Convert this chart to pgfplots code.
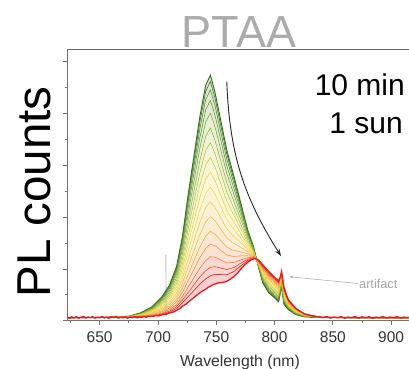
\documentclass[border=0pt]{standalone}
\usepackage{fontspec}
\setmainfont{Liberation Sans}
\usepackage{pgfplots}
\pgfplotsset{compat=1.18}
\usepackage{pgfplotstable}
\usepgfplotslibrary{fillbetween}
\usetikzlibrary{arrows.meta}

\definecolor{g0}{RGB}{52,110,30}
\definecolor{g1}{RGB}{115,160,45}
\definecolor{y1}{RGB}{185,200,55}
\definecolor{y2}{RGB}{240,215,65}
\definecolor{o1}{RGB}{245,165,45}
\definecolor{o2}{RGB}{240,95,35}
\definecolor{r0}{RGB}{232,25,35}
\colorlet{col0}{g0}
\colorlet{col1}{g0!85!g1}
\colorlet{col2}{g0!60!g1}
\colorlet{col3}{g0!30!g1}
\colorlet{col4}{g1}
\colorlet{col5}{g1!60!y1}
\colorlet{col6}{g1!20!y1}
\colorlet{col7}{y1!70!y2}
\colorlet{col8}{y1!30!y2}
\colorlet{col9}{y2}
\colorlet{col10}{y2!65!o1}
\colorlet{col11}{y2!30!o1}
\colorlet{col12}{o1}
\colorlet{col13}{o1!60!o2}
\colorlet{col14}{o1!20!o2}
\colorlet{col15}{o2!60!r0}
\colorlet{col16}{o2!30!r0}
\colorlet{col17}{r0}

\pgfplotstableread{
x c0 c1 c2 c3 c4 c5 c6 c7 c8 c9 c10 c11 c12 c13 c14 c15 c16
622 110 112 108 115 111 113 109 116 112 110 114 117 111 115 118 113 116
650 120 118 123 121 125 119 124 122 127 121 126 123 128 125 129 126 131
675 170 169 167 165 163 160 157 154 152 149 146 143 140 138 136 134 132
685 300 295 288 280 270 259 247 236 224 213 201 189 178 168 158 150 143
695 540 528 513 493 470 442 415 388 361 333 306 279 251 228 205 185 169
703 900 879 850 815 772 722 673 623 573 524 474 424 375 332 289 254 225
710 1380 1347 1302 1247 1180 1102 1025 947 869 792 714 636 559 492 425 370 325
716 2100 2049 1980 1895 1792 1672 1553 1433 1313 1194 1074 954 835 732 629 544 475
721 3250 3169 3062 2927 2766 2577 2389 2201 2013 1824 1636 1448 1259 1098 937 802 694
726 4900 4775 4607 4398 4148 3855 3562 3270 2977 2685 2392 2099 1807 1556 1305 1096 929
731 6400 6235 6015 5740 5410 5025 4640 4255 3870 3485 3100 2715 2330 2000 1670 1395 1175
736 7900 7695 7423 7082 6672 6195 5718 5240 4763 4285 3808 3331 2853 2444 2035 1694 1421
741 9100 8864 8548 8154 7682 7130 6578 6027 5475 4924 4372 3820 3269 2796 2323 1929 1614
745 9480 9235 8909 8502 8013 7442 6872 6301 5731 5160 4590 4019 3449 2960 2471 2063 1737
749 8800 8579 8283 7914 7472 6955 6438 5922 5405 4889 4372 3855 3339 2896 2453 2084 1789
754 7700 7513 7264 6952 6579 6142 5706 5270 4834 4398 3962 3526 3090 2716 2342 2031 1781
759 6600 6448 6244 5990 5686 5330 4974 4619 4263 3908 3552 3196 2841 2536 2231 1977 1774
765 5600 5483 5327 5132 4898 4625 4352 4079 3806 3533 3260 2987 2714 2480 2246 2051 1895
771 4550 4473 4371 4243 4089 3910 3731 3552 3372 3193 3014 2835 2656 2502 2348 2220 2118
777 3500 3463 3413 3351 3277 3190 3103 3016 2930 2843 2756 2669 2582 2508 2434 2372 2322
782 2850 2836 2818 2795 2767 2735 2703 2671 2638 2606 2574 2542 2510 2482 2454 2431 2413
786 2100 2107 2117 2129 2143 2160 2177 2194 2210 2227 2244 2261 2278 2292 2306 2318 2328
790 1450 1471 1499 1534 1576 1625 1674 1723 1772 1821 1870 1919 1968 2010 2052 2087 2115
795 1080 1105 1137 1178 1228 1285 1342 1400 1457 1515 1572 1629 1687 1736 1785 1826 1859
800 880 904 936 976 1024 1080 1136 1192 1248 1304 1360 1416 1472 1520 1568 1608 1640
803.5 730 754 786 826 874 930 986 1042 1098 1154 1210 1266 1322 1370 1418 1458 1490
806 1340 1357 1379 1407 1441 1480 1519 1558 1598 1637 1676 1715 1754 1788 1822 1850 1872
808 640 660 686 719 759 805 851 897 944 990 1036 1082 1128 1168 1208 1241 1267
812 420 431 447 466 488 515 542 568 595 621 648 675 701 724 747 766 781
818 240 248 258 270 285 303 320 338 355 373 390 408 425 440 455 468 478
826 150 153 158 163 170 178 185 193 201 208 216 224 231 238 245 250 255
840 120 122 119 124 121 126 123 127 125 129 126 131 128 133 130 135 137
870 110 113 109 114 112 116 111 117 115 119 114 120 118 122 119 123 121
915 100 104 99 105 102 107 101 108 103 109 104 110 106 111 107 112 110
}\spec

\pgfplotstableread{
x y
622 140
624 95
626 150
628 110
630 160
632 90
634 135
636 170
638 100
640 145
642 120
644 160
646 95
648 140
650 115
652 165
654 105
656 140
658 90
660 150
662 120
664 170
666 100
668 135
670 110
672 155
674 95
676 145
678 120
680 160
682 110
684 150
686 125
688 165
690 130
692 175
695 160
698 200
701 185
704 240
707 250
710 300
713 330
716 400
719 470
721 560
724 640
726 720
729 830
731 900
734 1010
736 1080
738 1140
741 1220
743 1290
745 1330
747 1390
749 1420
751 1450
754 1470
756 1480
759 1520
762 1600
765 1700
768 1830
771 1990
774 2140
777 2260
780 2350
782 2390
784 2395
786 2340
788 2260
790 2150
793 2000
795 1900
798 1760
800 1680
802 1600
803.5 1530
805 1700
806 1900
807 1600
808 1300
810 1000
812 800
815 640
818 490
822 360
826 260
830 200
834 170
838 150
842 130
845 160
848 100
851 145
854 115
857 160
860 95
863 140
866 120
869 165
872 100
875 150
878 115
881 155
884 95
887 140
890 120
893 160
896 105
899 145
902 115
905 160
908 100
911 140
914 120
915 130
}\redtab

\begin{document}
\begin{tikzpicture}
\begin{axis}[
  set layers,
  scale only axis, width=342pt, height=271.7pt,
  xmin=622, xmax=915.3, ymin=0, ymax=10490,
  axis x line*=bottom, axis y line*=left,
  axis line style={draw=black!55, line width=0.8pt},
  tick align=outside,
  xtick={650,700,...,900}, minor xtick={625,675,...,875},
  ytick={0,2000,...,10000}, minor ytick={1000,3000,...,9000},
  yticklabels={},
  major tick length=4.5pt, minor tick length=2.5pt,
  every tick/.style={black!55, line width=0.8pt},
  xticklabel style={font=\fontsize{15.5}{18}\selectfont, text=black!80, yshift=-2.5pt},
  /pgf/number format/assume math mode=true,
  scaled y ticks=false,
]
\addplot[black!25, line width=0.4pt] coordinates {(706.3,200) (706.6,2530) (707.0,2540) (707.3,200)};

\addplot[col0, line width=0.9pt, name path=p0] table[x=x,y=c0]{\spec};
\addplot[col1, line width=0.6pt, name path=p1] table[x=x,y=c1]{\spec};
\addplot[col2, line width=0.5pt, name path=p2] table[x=x,y=c2]{\spec};
\addplot[col3, line width=0.5pt, name path=p3] table[x=x,y=c3]{\spec};
\addplot[col4, line width=0.5pt, name path=p4] table[x=x,y=c4]{\spec};
\addplot[col5, line width=0.5pt, name path=p5] table[x=x,y=c5]{\spec};
\addplot[col6, line width=0.5pt, name path=p6] table[x=x,y=c6]{\spec};
\addplot[col7, line width=0.5pt, name path=p7] table[x=x,y=c7]{\spec};
\addplot[col8, line width=0.5pt, name path=p8] table[x=x,y=c8]{\spec};
\addplot[col9, line width=0.5pt, name path=p9] table[x=x,y=c9]{\spec};
\addplot[col10, line width=0.5pt, name path=p10] table[x=x,y=c10]{\spec};
\addplot[col11, line width=0.5pt, name path=p11] table[x=x,y=c11]{\spec};
\addplot[col12, line width=0.5pt, name path=p12] table[x=x,y=c12]{\spec};
\addplot[col13, line width=0.5pt, name path=p13] table[x=x,y=c13]{\spec};
\addplot[col14, line width=0.5pt, name path=p14] table[x=x,y=c14]{\spec};
\addplot[col15, line width=0.6pt, name path=p15] table[x=x,y=c15]{\spec};
\addplot[col16, line width=0.7pt, name path=p16] table[x=x,y=c16]{\spec};
\addplot[col17, line width=1.3pt, name path=p17] table[x=x,y=y]{\redtab};

\addplot[fill=col1, fill opacity=0.2, draw=none] fill between[of=p0 and p1];
\addplot[fill=col2, fill opacity=0.2, draw=none] fill between[of=p1 and p2];
\addplot[fill=col3, fill opacity=0.2, draw=none] fill between[of=p2 and p3];
\addplot[fill=col4, fill opacity=0.2, draw=none] fill between[of=p3 and p4];
\addplot[fill=col5, fill opacity=0.2, draw=none] fill between[of=p4 and p5];
\addplot[fill=col6, fill opacity=0.2, draw=none] fill between[of=p5 and p6];
\addplot[fill=col7, fill opacity=0.2, draw=none] fill between[of=p6 and p7];
\addplot[fill=col8, fill opacity=0.2, draw=none] fill between[of=p7 and p8];
\addplot[fill=col9, fill opacity=0.2, draw=none] fill between[of=p8 and p9];
\addplot[fill=col10, fill opacity=0.2, draw=none] fill between[of=p9 and p10];
\addplot[fill=col11, fill opacity=0.2, draw=none] fill between[of=p10 and p11];
\addplot[fill=col12, fill opacity=0.2, draw=none] fill between[of=p11 and p12];
\addplot[fill=col13, fill opacity=0.2, draw=none] fill between[of=p12 and p13];
\addplot[fill=col14, fill opacity=0.2, draw=none] fill between[of=p13 and p14];
\addplot[fill=col15, fill opacity=0.2, draw=none] fill between[of=p14 and p15];
\addplot[fill=col16, fill opacity=0.2, draw=none] fill between[of=p15 and p16];
\addplot[fill=col17, fill opacity=0.2, draw=none] fill between[of=p16 and p17];

\draw[-{Stealth[length=7pt,width=5pt]}, line width=0.9pt, black!85] (axis cs:759,9230) to[bend right=15] (axis cs:805.5,2500);
\draw[-{Stealth[length=4pt,width=3pt]}, black!30, line width=0.6pt] (axis cs:871.6,1436) -- (axis cs:812.6,1699);

\coordinate (O) at (rel axis cs:0,0);
\end{axis}
\draw[black!60, line width=0.8pt] (O) ++(0,271.7pt) -- ++(342pt,0);
\node[anchor=base, text=black!33, font=\fontsize{45}{54}\selectfont, inner sep=0] at ([shift={(172pt,273.7pt)}]O) {PTAA};
\node[anchor=base east, font=\fontsize{30}{36}\selectfont, inner sep=0] at ([shift={(338pt,225.7pt)}]O) {10 min};
\node[anchor=base east, font=\fontsize{30}{36}\selectfont, inner sep=0] at ([shift={(336pt,187.7pt)}]O) {1 sun};
\node[rotate=90, anchor=base, font=\fontsize{47.5}{56}\selectfont, inner sep=0] at ([shift={(-17pt,128.7pt)}]O) {PL counts};
\node[anchor=base, font=\fontsize{15.8}{19}\selectfont, text=black!80, inner sep=0] at ([shift={(173pt,-45.3pt)}]O) {Wavelength (nm)};
\node[anchor=base west, text=black!35, font=\fontsize{12.7}{15}\selectfont, inner sep=0] at ([shift={(292pt,32.7pt)}]O) {artifact};
\pgfresetboundingbox
\useasboundingbox ([shift={(-67pt,-47.3pt)}]O) rectangle ([shift={(342pt,320.7pt)}]O);
\end{tikzpicture}
\end{document}
